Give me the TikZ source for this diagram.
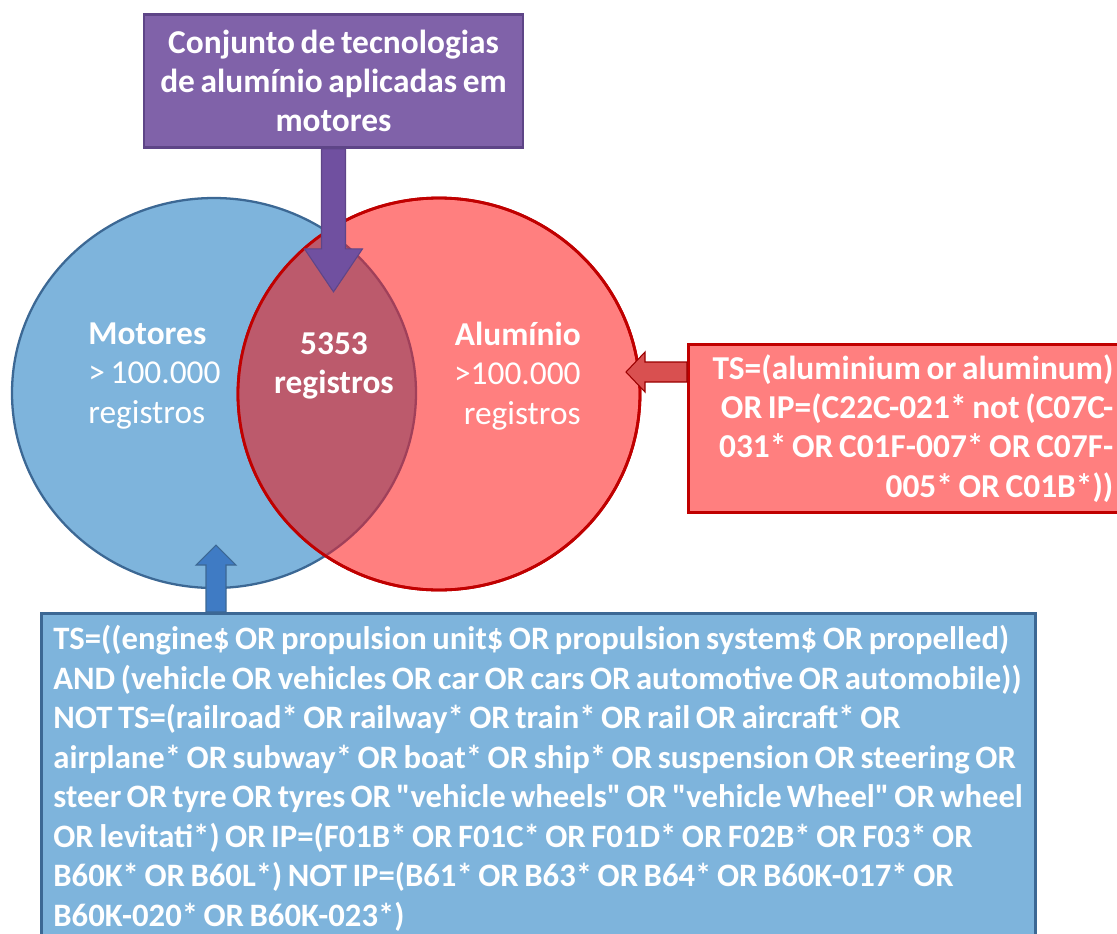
\documentclass[tikz,border=0pt]{standalone}
\usepackage{fontspec}
\setmainfont{Carlito}[Ligatures=TeXOff,WordSpace=0.75]
\usepackage{tikz}
\usetikzlibrary{positioning}
\definecolor{motfill}{HTML}{7EB4DC}
\definecolor{motline}{HTML}{3C6894}
\definecolor{alufill}{HTML}{FF7F7F}
\definecolor{aluline}{HTML}{C00000}
\definecolor{interfill}{HTML}{BC5A6C}
\definecolor{interline}{HTML}{A0405A}
\definecolor{techfill}{HTML}{8062A9}
\definecolor{techline}{HTML}{5E4587}
\definecolor{techarrow}{HTML}{7050A0}
\definecolor{motarrow}{HTML}{3F7BC4}
\definecolor{aluarrow}{HTML}{D95050}

\begin{document}
\begin{tikzpicture}[x=0.02cm,y=-0.02cm,
    lbl/.style={text=white,font=\bfseries\fontsize{19}{22.5}\selectfont,inner sep=0pt},
    querybox/.style={draw,line width=1.6pt,text=white,font=\bfseries\fontsize{19}{22.4}\selectfont}]
  \useasboundingbox (0,0) rectangle (1117,934);
  \filldraw[fill=motfill,draw=motline,line width=1.3pt] (214,393) ellipse [x radius=202,y radius=195];
  \filldraw[fill=alufill,draw=aluline,line width=1.6pt] (439,394) ellipse [x radius=201,y radius=196];
  \begin{scope}
    \clip (214,393) ellipse [x radius=202,y radius=195];
    \fill[interfill] (439,394) ellipse [x radius=201,y radius=196];
  \end{scope}
  \begin{scope}
    \clip (439,394) ellipse [x radius=201,y radius=196];
    \draw[interline,line width=1.3pt] (214,393) ellipse [x radius=202,y radius=195];
  \end{scope}
  \draw[aluline,line width=1.6pt] (439,394) ellipse [x radius=201,y radius=196];

  \node[lbl,align=left,anchor=west] (motores) at (88,376) {Motores\\{\mdseries > 100.000}\\{\mdseries registros}};
  \node[lbl,align=center] (inter) at (334,366) {5353\\registros};
  \node[lbl,align=right,anchor=east] (aluminio) at (581,376) {Alumínio\\{\mdseries >100.000}\\{\mdseries registros}};

  \node[querybox,fill=techfill,draw=techline,minimum width=7.58cm,minimum height=2.66cm,align=center] (tech) at (333.5,81)
    {Conjunto de tecnologias\\de alumínio aplicadas em\\motores};
  \node[querybox,fill=alufill,draw=aluline,anchor=north west,inner xsep=0.2cm,inner ysep=0.2cm,text width=8.3cm,align=flush right] (aluq) at (687,343)
    {TS=(aluminium or aluminum)\\OR IP=(C22C-021* not (C07C-\\031* OR C01F-007* OR C07F-\\005* OR C01B*))};
  \node[querybox,fill=motfill,draw=motline,anchor=north west,inner xsep=0.24cm,inner ysep=0.24cm,text width=19.4cm,align=flush left,
      font=\bfseries\fontsize{18.6}{22.5}\selectfont] (motq) at (40,612)
    {TS=((engine\$ OR propulsion unit\$ OR propulsion system\$ OR propelled)\\
     AND (vehicle OR vehicles OR car OR cars OR automotive OR automobile))\\
     NOT TS=(railroad* OR railway* OR train* OR rail OR aircraft* OR\\
     airplane* OR subway* OR boat* OR ship* OR suspension OR steering OR\\
     steer OR tyre OR tyres OR "vehicle wheels" OR "vehicle Wheel" OR wheel\\
     OR levitati*) OR IP=(F01B* OR F01C* OR F01D* OR F02B* OR F03* OR\\
     B60K* OR B60L*) NOT IP=(B61* OR B63* OR B64* OR B60K-017* OR\\
     B60K-020* OR B60K-023*)\\[1.5em]};

  \filldraw[fill=techarrow,draw=techline,line width=0.6pt] (tech.south) ++(-12,0) -- ++(24,0) -- ++(0,100) -- ++(17,0)
    -- ++(-29,43) -- ++(-29,-43) -- ++(17,0) -- cycle;
  \filldraw[fill=aluarrow,draw=aluline!80!black,line width=0.6pt] (aluq.north west) ++(0,19) -- ++(-42,0) -- ++(0,-10)
    -- ++(-19,20) -- ++(19,20) -- ++(0,-10) -- ++(42,0) -- cycle;
  \filldraw[fill=motarrow,draw=motline,line width=0.6pt] (motq.north west) ++(166,0) -- ++(0,-47) -- ++(-10,0)
    -- ++(20,-20) -- ++(20,20) -- ++(-10,0) -- ++(0,47) -- cycle;
\end{tikzpicture}
\end{document}
